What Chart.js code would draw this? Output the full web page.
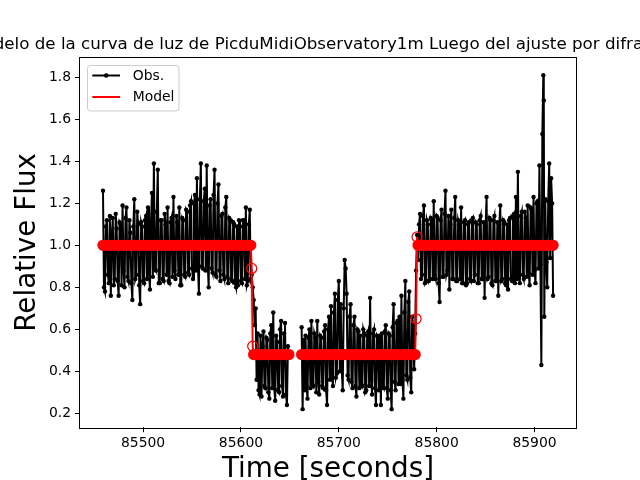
<!DOCTYPE html>
<html>
<head>
<meta charset="utf-8">
<script src="https://cdn.jsdelivr.net/npm/chart.js@4/dist/chart.umd.min.js"></script>
<style>
  body { margin: 0; background: #fff; }
  #lc { display: block; }
</style>
</head>
<body>
<canvas id="lc" width="640" height="480"></canvas>
<script>
const obsTime = [
  85459,85460,85461,85462,85463,85464,85465,85466,85467,85468,85469,85470,85471,85472,85473,85474,85475,85476,85477,85478,
  85479,85480,85481,85482,85483,85484,85485,85486,85487,85488,85489,85490,85491,85492,85493,85494,85495,85496,85497,85498,
  85499,85500,85501,85502,85503,85504,85505,85506,85507,85508,85509,85510,85511,85512,85513,85514,85515,85516,85517,85518,
  85519,85520,85521,85522,85523,85524,85525,85526,85527,85528,85529,85530,85531,85532,85533,85534,85535,85536,85537,85538,
  85539,85540,85541,85542,85543,85544,85545,85546,85547,85548,85549,85550,85551,85552,85553,85554,85555,85556,85557,85558,
  85559,85560,85561,85562,85563,85564,85565,85566,85567,85568,85569,85570,85571,85572,85573,85574,85575,85576,85577,85578,
  85579,85580,85581,85582,85583,85584,85585,85586,85587,85588,85589,85590,85591,85592,85593,85594,85595,85596,85597,85598,
  85599,85600,85601,85602,85603,85604,85605,85606,85607,85608,85609,85610,
  85611,85612,
  85613,85614,85615,85616,85617,85618,85619,85620,85621,85622,85623,85624,85625,85626,85627,85628,85629,85630,85631,85632,
  85633,85634,85635,85636,85637,85638,85639,85640,85641,85642,85643,85644,85645,85646,85647,85648,85649,
  85656,
  85662,85663,85664,85665,85666,85667,85668,85669,85670,85671,85672,85673,85674,85675,85676,85677,85678,85679,85680,85681,
  85682,85683,85684,85685,85686,85687,85688,85689,85690,85691,85692,85693,85694,85695,85696,85697,85698,85699,85700,85701,
  85702,85703,85704,85705,85706,85707,85708,85709,85710,85711,85712,85713,85714,85715,85716,85717,85718,85719,85720,85721,
  85722,85723,85724,85725,85726,85727,85728,85729,85730,85731,85732,85733,85734,85735,85736,85737,85738,85739,85740,85741,
  85742,85743,85744,85745,85746,85747,85748,85749,85750,85751,85752,85753,85754,85755,85756,85757,85758,85759,85760,85761,
  85762,85763,85764,85765,85766,85767,85768,85769,85770,85771,85772,85773,85774,85775,85776,85777,85778,
  85779,85780,
  85781,85782,85783,85784,85785,85786,85787,85788,85789,85790,85791,85792,85793,85794,85795,85796,85797,85798,85799,85800,
  85801,85802,85803,85804,85805,85806,85807,85808,85809,85810,85811,85812,85813,85814,85815,85816,85817,85818,85819,85820,
  85821,85822,85823,85824,85825,85826,85827,85828,85829,85830,85831,85832,85833,85834,85835,85836,85837,85838,85839,85840,
  85841,85842,85843,85844,85845,85846,85847,85848,85849,85850,85851,85852,85853,85854,85855,85856,85857,85858,85859,85860,
  85861,85862,85863,85864,85865,85866,85867,85868,85869,85870,85871,85872,85873,85874,85875,85876,85877,85878,85879,85880,
  85881,85882,85883,85884,85885,85886,85887,85888,85889,85890,85891,85892,85893,85894,85895,85896,85897,85898,85899,85900,
  85901,85902,85903,85904,85905,85906,
  85907,85908,85909,85909.5,85910,
  85911,85912,85913,85914,85915,85916,85917,85918,85919
];

const obsFlux = [
  1.26,0.80,0.78,1.09,1.12,0.86,0.82,1.14,0.76,1.05,1.13,0.81,0.84,1.15,1.08,0.83,0.76,1.11,1.10,0.81,
  1.19,0.88,0.80,1.13,1.18,0.85,0.83,1.12,1.06,0.82,0.74,1.09,1.22,0.84,0.86,1.16,1.10,0.81,0.72,1.11,
  1.09,0.83,0.82,1.12,1.14,0.84,1.18,0.87,0.79,1.10,1.25,0.85,1.39,0.89,0.88,1.16,1.36,0.82,0.82,1.12,
  1.12,0.84,0.83,1.15,1.10,0.86,1.18,0.83,0.82,1.11,1.13,0.85,1.23,0.88,0.84,1.14,1.11,0.86,1.18,0.81,
  0.81,1.13,1.12,0.86,0.85,1.17,1.16,0.87,0.86,1.19,1.21,0.89,0.84,1.20,1.24,0.88,1.32,0.91,0.77,1.22,
  1.39,0.90,0.89,1.21,1.27,0.88,1.38,0.92,0.80,1.19,1.22,0.89,0.87,1.24,1.36,0.86,0.85,1.20,1.29,0.88,
  0.83,1.14,1.15,0.86,0.84,1.18,1.23,0.85,0.82,1.13,1.12,0.84,0.83,1.11,1.10,0.82,0.80,1.09,0.81,1.12,
  1.09,0.83,0.82,1.12,1.12,0.84,1.18,0.81,0.83,1.10,1.17,0.84,
  0.86,0.80,
  0.74,0.62,0.70,0.36,0.58,0.31,0.29,0.57,0.28,0.52,0.59,0.33,0.32,0.56,0.55,0.30,0.27,0.58,0.62,0.32,
  0.68,0.32,0.26,0.57,0.54,0.31,0.30,0.60,0.64,0.33,0.28,0.58,0.63,0.29,0.24,0.52,0.47,
  null,
  0.61,0.22,0.55,0.31,0.57,0.33,0.27,0.56,0.60,0.32,0.64,0.34,0.33,0.58,0.56,0.30,0.64,0.35,0.29,0.57,
  0.56,0.33,0.32,0.59,0.62,0.31,0.24,0.60,0.66,0.36,0.71,0.38,0.33,0.68,0.77,0.37,0.39,0.74,0.83,0.40,
  0.72,0.41,0.31,0.70,0.93,0.89,0.77,0.38,0.36,0.66,0.72,0.35,0.32,0.62,0.66,0.33,0.28,0.60,0.59,0.32,
  0.57,0.34,0.33,0.60,0.58,0.30,0.31,0.57,0.59,0.33,0.75,0.36,0.29,0.58,0.60,0.32,0.24,0.57,0.56,0.31,
  0.57,0.24,0.58,0.33,0.32,0.59,0.62,0.32,0.27,0.58,0.57,0.31,0.22,0.61,0.72,0.35,0.31,0.63,0.64,0.34,
  0.66,0.34,0.76,0.36,0.27,0.68,0.83,0.38,0.36,0.73,0.78,0.37,0.30,0.66,0.62,0.41,0.58,
  0.88,1.05,
  0.93,1.10,1.15,0.84,0.86,1.14,1.19,0.82,0.83,1.12,1.10,0.83,0.84,1.13,1.12,0.84,1.21,0.86,0.84,1.14,
  1.13,0.82,0.73,1.12,1.17,0.85,0.85,1.15,1.26,0.86,0.88,1.14,0.79,1.10,1.17,0.84,0.84,1.13,1.23,0.83,
  0.83,1.12,1.10,0.84,1.18,0.82,0.82,1.11,1.12,0.81,0.82,1.10,1.11,0.84,0.83,1.12,1.13,0.83,0.86,1.11,
  1.10,0.82,0.82,1.12,1.14,0.84,0.84,1.11,0.75,1.09,1.23,0.84,0.85,1.13,1.12,0.82,0.81,1.12,1.14,0.83,
  0.83,1.11,0.76,1.10,1.19,0.83,0.84,1.12,1.11,0.82,0.81,1.10,0.79,1.12,1.13,0.84,0.83,1.14,1.15,0.82,
  1.23,0.84,1.35,0.85,0.82,1.14,1.16,0.86,0.84,1.16,1.13,0.85,1.19,0.87,0.81,1.18,1.17,0.86,1.23,0.88,
  0.82,1.20,1.21,0.89,1.38,0.91,
  0.43,1.53,1.81,1.69,0.66,
  1.22,0.92,0.80,1.21,1.39,0.94,1.32,1.20,0.76
];

// fitted diffraction model (sampled every ~4 s, finer at the edges)
const modelTime = [
  85459,85463,85467,85471,85475,85479,85483,85487,85491,85495,85499,85503,85507,85511,85515,85519,85523,85527,85531,85535,
  85539,85543,85547,85551,85555,85559,85563,85567,85571,85575,85579,85583,85587,85591,85595,85599,85603,85607,85610,
  85611,85612,
  85613,85617,85621,85625,85629,85633,85637,85641,85645,85649,
  85656,
  85662,85666,85670,85674,85678,85682,85686,85690,85694,85698,85702,85706,85710,85714,85718,
  85722,85726,85730,85734,85738,85742,85746,85750,85754,85758,85762,85766,85770,85774,85778,
  85779,85780,
  85781,85785,85789,85793,85797,85801,85805,85809,85813,85817,85821,85825,85829,85833,85837,85841,85845,85849,
  85853,85857,85861,85865,85869,85873,85877,85881,85885,85889,85893,85897,85901,85905,85909,85913,85917,85919
];

const modelFlux = [
  1,1,1,1,1,1,1,1,1,1,1,1,1,1,1,1,1,1,1,1,
  1,1,1,1,1,1,1,1,1,1,1,1,1,1,1,1,1,1,1,
  0.89,0.52,
  0.48,0.48,0.48,0.48,0.48,0.48,0.48,0.48,0.48,0.48,
  null,
  0.48,0.48,0.48,0.48,0.48,0.48,0.48,0.48,0.48,0.48,0.48,0.48,0.48,0.48,0.48,
  0.48,0.48,0.48,0.48,0.48,0.48,0.48,0.48,0.48,0.48,0.48,0.48,0.48,0.48,0.48,
  0.65,1.04,
  1,1,1,1,1,1,1,1,1,1,1,1,1,1,1,1,1,1,
  1,1,1,1,1,1,1,1,1,1,1,1,1,1,1,1,1,1
];

const xTicks = [85500, 85600, 85700, 85800, 85900];
const yTicks = [0.2, 0.4, 0.6, 0.8, 1.0, 1.2, 1.4, 1.6, 1.8];

const titleText = 'Modelo de la curva de luz de PicduMidiObservatory1m Luego del ajuste por difracción';
const xLabel = 'Time [seconds]';
const yLabel = 'Relative Flux';

const FONT = "'DejaVu Sans', sans-serif";

const obsPoints = obsTime.map((t, i) => ({ x: t, y: obsFlux[i] }));
const modelPoints = modelTime.map((t, i) => ({ x: t, y: modelFlux[i] }));

// matplotlib-like frame, title, axis labels and legend
const decorPlugin = {
    id: 'decor',
    beforeDraw(chart) {
        const c = chart.ctx;
        c.save();
        c.fillStyle = '#fff';
        c.fillRect(0, 0, chart.width, chart.height);
        c.restore();
    },
    afterDraw(chart) {
        const c = chart.ctx;
        const a = chart.chartArea;
        const cx = (a.left + a.right) / 2;
        const cy = (a.top + a.bottom) / 2;
        c.save();

        // spines
        c.strokeStyle = '#000';
        c.lineWidth = 1;
        c.strokeRect(Math.round(a.left) - 0.5, Math.round(a.top) - 0.5,
            Math.round(a.right - a.left) + 1, Math.round(a.bottom - a.top) + 1);

        c.fillStyle = '#000';
        c.textAlign = 'center';
        c.textBaseline = 'alphabetic';
        c.font = '16.7px ' + FONT;
        c.fillText(titleText, cx, a.top - 8.3);

        c.font = '27.8px ' + FONT;
        c.fillText(xLabel, cx, 477);

        c.translate(35, cy);
        c.rotate(-Math.PI / 2);
        c.fillText(yLabel, 0, 0);
        c.restore();

        // legend box
        c.save();
        const lx = 87.5, ly = 65.5, lw = 91.5, lh = 45.5, r = 3;
        c.beginPath();
        c.roundRect(lx, ly, lw, lh, r);
        c.fillStyle = 'rgba(255,255,255,0.8)';
        c.fill();
        c.strokeStyle = '#cccccc';
        c.lineWidth = 1;
        c.stroke();

        const rows = [
            { label: 'Obs.', color: '#000', dot: true, y: 75.5 },
            { label: 'Model', color: '#ff0000', dot: false, y: 97 }
        ];
        rows.forEach(row => {
            c.strokeStyle = row.color;
            c.lineWidth = 2;
            c.beginPath();
            c.moveTo(92.3, row.y);
            c.lineTo(120, row.y);
            c.stroke();
            if (row.dot) {
                c.fillStyle = row.color;
                c.beginPath();
                c.arc(106.2, row.y, 2.3, 0, Math.PI * 2);
                c.fill();
            }
            c.fillStyle = '#000';
            c.font = '13.9px ' + FONT;
            c.textAlign = 'left';
            c.textBaseline = 'middle';
            c.fillText(row.label, 132.7, row.y + 0.5);
        });
        c.restore();
    }
};

const ctx = document.getElementById('lc').getContext('2d');
new Chart(ctx, {
    type: 'line',
    data: {
        datasets: [{
            label: 'Obs.',
            data: obsPoints,
            order: 1,
            borderColor: '#000',
            borderWidth: 2,
            pointRadius: 2.2,
            pointBackgroundColor: '#000',
            pointBorderWidth: 0,
            tension: 0,
            spanGaps: false
        }, {
            label: 'Model',
            data: modelPoints,
            order: 0,
            borderColor: '#ff0000',
            borderWidth: 2,
            pointRadius: 5,
            pointBorderWidth: 1.3,
            pointBorderColor: '#ff0000',
            // transition points are drawn as open circles
            pointBackgroundColor: (c) => {
                const v = c.raw && c.raw.y;
                return (v === 1 || v === 0.48) ? '#ff0000' : 'rgba(0,0,0,0)';
            },
            tension: 0,
            spanGaps: false
        }]
    },
    options: {
        responsive: false,
        devicePixelRatio: 1,
        animation: false,
        layout: { padding: { left: 0, top: 57.6, right: 64, bottom: 0 } },
        plugins: {
            legend: { display: false },
            title: { display: false },
            tooltip: { enabled: false }
        },
        scales: {
            x: {
                type: 'linear',
                min: 85435.5,
                max: 85942.4,
                afterBuildTicks: (s) => { s.ticks = xTicks.map(v => ({ value: v })); },
                afterFit: (s) => { s.height = 52.8; },
                ticks: {
                    callback: (v) => String(v),
                    color: '#000',
                    font: { family: FONT, size: 13.9 },
                    padding: 3,
                    maxRotation: 0,
                    autoSkip: false
                },
                grid: {
                    display: true,
                    drawOnChartArea: false,
                    drawTicks: true,
                    tickLength: 5,
                    tickColor: '#000',
                    tickWidth: 1
                },
                border: { display: false }
            },
            y: {
                min: 0.134,
                max: 1.894,
                afterBuildTicks: (s) => { s.ticks = yTicks.map(v => ({ value: v })); },
                afterFit: (s) => { s.width = 80; },
                ticks: {
                    callback: (v) => v.toFixed(1),
                    color: '#000',
                    font: { family: FONT, size: 13.9 },
                    padding: 4,
                    autoSkip: false
                },
                grid: {
                    display: true,
                    drawOnChartArea: false,
                    drawTicks: true,
                    tickLength: 5,
                    tickColor: '#000',
                    tickWidth: 1
                },
                border: { display: false }
            }
        }
    },
    plugins: [decorPlugin]
});
</script>
</body>
</html>
